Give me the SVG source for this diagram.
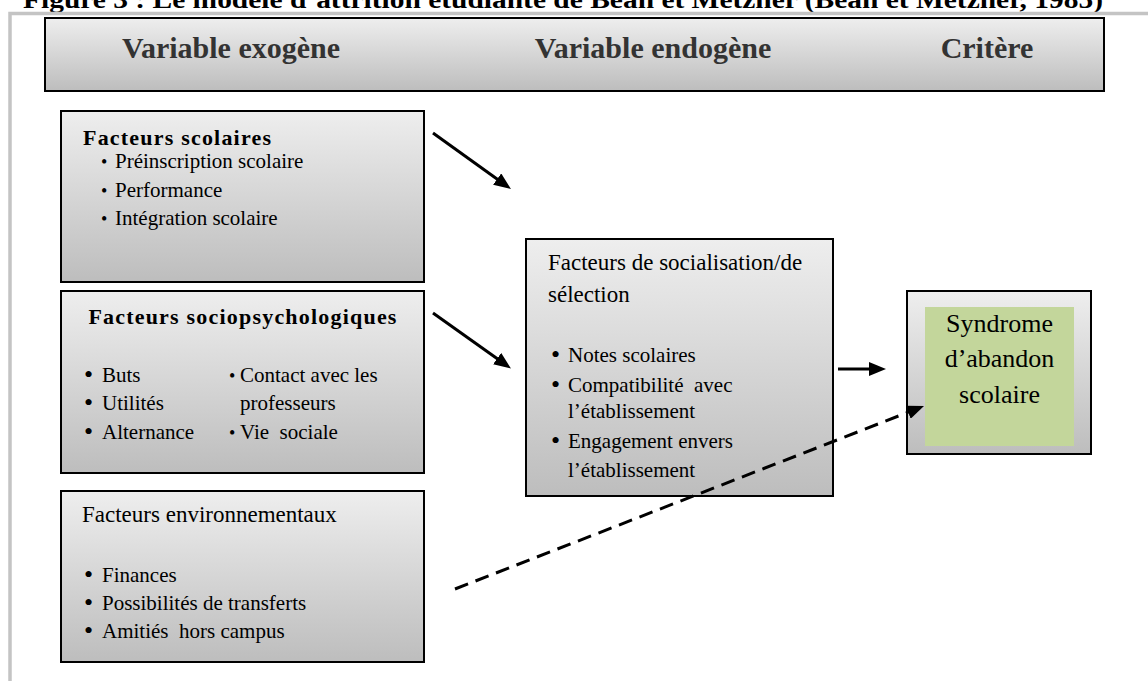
<svg xmlns="http://www.w3.org/2000/svg" width="1148" height="681" viewBox="0 0 1148 681">
  <defs>
    <linearGradient id="boxFill" x1="0" y1="0" x2="0" y2="1">
      <stop offset="0" stop-color="#eeeeee"/>
      <stop offset="1" stop-color="#bdbdbd"/>
    </linearGradient>
    <marker id="head" viewBox="0 0 17 14" markerWidth="17" markerHeight="14" refX="5" refY="7" orient="auto" markerUnits="userSpaceOnUse">
      <path d="M0,0 L17,7 L0,14 z" fill="#000"/>
    </marker>
    <style>
      .box { fill: url(#boxFill); stroke: #000; stroke-width: 2; }
      .hdr { font-family: "Liberation Serif", "Times New Roman", serif; font-weight: bold; font-size: 30px; fill: #333; text-anchor: middle; }
      .ttl { font-family: "Liberation Serif", "Times New Roman", serif; font-weight: bold; font-size: 22px; fill: #000; letter-spacing: 1.2px; }
      .head23 { font-family: "Liberation Serif", "Times New Roman", serif; font-size: 23px; fill: #000; }
      .txt { font-family: "Liberation Serif", "Times New Roman", serif; font-size: 21px; fill: #000; white-space: pre; }
      .dot { font-family: "Liberation Serif", "Times New Roman", serif; font-size: 18px; fill: #000; }
      .bigdot { font-family: "Liberation Serif", "Times New Roman", serif; font-size: 26px; fill: #000; }
      .crit { font-family: "Liberation Serif", "Times New Roman", serif; font-size: 26px; fill: #000; text-anchor: middle; }
      .link { stroke: #000; stroke-width: 3; fill: none; marker-end: url(#head); }
      .dashed { stroke-dasharray: 14 8; }
    </style>
  </defs>

  <rect width="1148" height="681" fill="#fff"/>

  <!-- caption, clipped at the top edge -->
  <text x="23" y="8" font-family="Liberation Serif, Times New Roman, serif" font-weight="bold" font-size="26" textLength="1080" lengthAdjust="spacingAndGlyphs">Figure 3 : Le modèle d’attrition étudiante de Bean et Metzner (Bean et Metzner, 1985)</text>

  <!-- outer frame (top and left edges) -->
  <polyline points="10,681 10,13.5 1148,13.5" fill="none" stroke="#c4c4c4" stroke-width="3.5"/>

  <!-- column header band -->
  <g id="header">
    <rect class="box" x="45" y="18" width="1059" height="73"/>
    <text class="hdr" x="231" y="58">Variable exogène</text>
    <text class="hdr" x="653" y="58">Variable endogène</text>
    <text class="hdr" x="987" y="58">Critère</text>
  </g>

  <g id="facteurs-scolaires">
    <rect class="box" x="61" y="111" width="363" height="171"/>
    <text class="ttl" x="83" y="145" letter-spacing="1">Facteurs scolaires</text>
    <text class="dot" x="101" y="168">•</text>
    <text class="txt" x="115" y="168">Préinscription scolaire</text>
    <text class="dot" x="101" y="197">•</text>
    <text class="txt" x="115" y="197">Performance</text>
    <text class="dot" x="101" y="225">•</text>
    <text class="txt" x="115" y="225">Intégration scolaire</text>
  </g>

  <g id="facteurs-sociopsychologiques">
    <rect class="box" x="61" y="291" width="363" height="182"/>
    <text class="ttl" x="243" y="324" text-anchor="middle">Facteurs sociopsychologiques</text>
    <text class="bigdot" x="84" y="383">•</text>
    <text class="txt" x="102" y="382">Buts</text>
    <text class="bigdot" x="84" y="411">•</text>
    <text class="txt" x="102" y="410">Utilités</text>
    <text class="bigdot" x="84" y="440">•</text>
    <text class="txt" x="102" y="439">Alternance</text>
    <text class="dot" x="229" y="382">•</text>
    <text class="txt" x="240" y="382">Contact avec les</text>
    <text class="txt" x="240" y="410">professeurs</text>
    <text class="dot" x="229" y="439">•</text>
    <text class="txt" x="240" y="439">Vie  sociale</text>
  </g>

  <g id="facteurs-environnementaux">
    <rect class="box" x="61" y="491" width="363" height="171"/>
    <text class="head23" x="82" y="522">Facteurs environnementaux</text>
    <text class="bigdot" x="84" y="583">•</text>
    <text class="txt" x="102" y="582">Finances</text>
    <text class="bigdot" x="84" y="611">•</text>
    <text class="txt" x="102" y="610">Possibilités de transferts</text>
    <text class="bigdot" x="84" y="639">•</text>
    <text class="txt" x="102" y="638">Amitiés  hors campus</text>
  </g>

  <g id="socialisation-selection">
    <rect class="box" x="526" y="239" width="307" height="257"/>
    <text class="head23" x="548" y="270">Facteurs de socialisation/de</text>
    <text class="head23" x="548" y="302">sélection</text>
    <text class="bigdot" x="551" y="363">•</text>
    <text class="txt" x="568" y="362">Notes scolaires</text>
    <text class="bigdot" x="551" y="393">•</text>
    <text class="txt" x="568" y="392">Compatibilité  avec</text>
    <text class="txt" x="568" y="418">l’établissement</text>
    <text class="bigdot" x="551" y="449">•</text>
    <text class="txt" x="568" y="448">Engagement envers</text>
    <text class="txt" x="568" y="477">l’établissement</text>
  </g>

  <g id="syndrome-abandon">
    <rect class="box" x="907" y="291" width="184" height="163"/>
    <rect x="925" y="307" width="149" height="139" fill="#c3d69b"/>
    <text class="crit" x="999.5" y="332">Syndrome</text>
    <text class="crit" x="999.5" y="367">d’abandon</text>
    <text class="crit" x="999.5" y="403">scolaire</text>
  </g>

  <g id="connectors">
    <line class="link" x1="433" y1="133" x2="501.2" y2="182"/>
    <line class="link" x1="433" y1="313" x2="501.2" y2="361.5"/>
    <line class="link" x1="838" y1="369" x2="874" y2="369"/>
    <line class="link dashed" x1="455" y1="589" x2="912.8" y2="410.4"/>
  </g>
</svg>
